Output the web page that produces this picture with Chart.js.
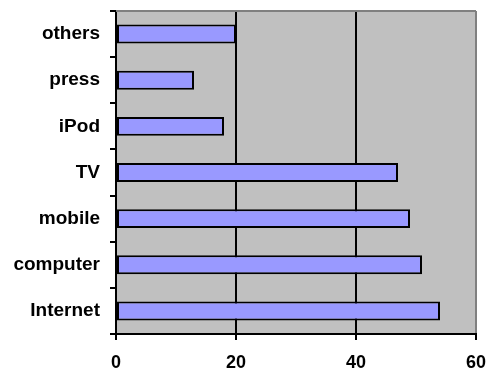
<!DOCTYPE html>
<html>
<head>
<meta charset="utf-8">
<script src="https://cdn.jsdelivr.net/npm/chart.js@4"></script>
<style>
  html, body { margin: 0; padding: 0; background: #fff; }
  #wrap { width: 487px; height: 373px; }
</style>
</head>
<body>
<div id="wrap"><canvas id="barChart" width="487" height="373"></canvas></div>
<script>
const categories = ["others", "press", "iPod", "TV", "mobile", "computer", "Internet"];
const values = [20, 13, 18, 47, 49, 51, 54];
const xTicks = [0, 20, 40, 60];

// grey plot area with a grey frame on top
const plotBackground = {
  id: "plotBackground",
  beforeDraw(chart) {
    const { ctx, chartArea: a } = chart;
    ctx.save();
    ctx.fillStyle = "#C0C0C0";
    ctx.fillRect(a.left, a.top, a.right - a.left, a.bottom - a.top);
    ctx.restore();
  },
  afterDraw(chart) {
    const { ctx, chartArea: a } = chart;
    ctx.save();
    ctx.strokeStyle = "#808080";
    ctx.lineWidth = 2;
    ctx.beginPath();
    ctx.moveTo(a.left, a.top);
    ctx.lineTo(a.right, a.top);
    ctx.stroke();
    ctx.restore();
  },
};

const ctx = document.getElementById("barChart").getContext("2d");

new Chart(ctx, {
  type: "bar",
  data: {
    labels: categories,
    datasets: [
      {
        data: values,
        backgroundColor: "#9999FF",
        borderColor: "#000000",
        borderWidth: 2,
        borderSkipped: false,
        barPercentage: 0.41,
        categoryPercentage: 1,
      },
    ],
  },
  options: {
    indexAxis: "y",
    responsive: false,
    animation: false,
    layout: { padding: { top: 11, right: 11, left: 0, bottom: 0 } },
    plugins: {
      legend: { display: false },
      tooltip: { enabled: false },
    },
    scales: {
      x: {
        min: 0,
        max: 60,
        afterBuildTicks: (scale) => {
          scale.ticks = xTicks.map((v) => ({ value: v }));
        },
        afterFit: (scale) => {
          scale.height = 39;
          scale.paddingLeft = 0;
          scale.paddingRight = 0;
        },
        grid: {
          color: (c) => (c.tick && c.tick.value === 60 ? "#808080" : "#000000"),
          lineWidth: 2,
          tickLength: 6,
          tickColor: "#000000",
        },
        border: { color: "#000000", width: 2 },
        ticks: {
          color: "#000000",
          padding: 12,
          maxRotation: 0,
          font: { family: "'Liberation Sans', Arial, sans-serif", size: 18, weight: "bold" },
        },
      },
      y: {
        afterFit: (scale) => {
          scale.width = 116;
          scale.paddingTop = 0;
          scale.paddingBottom = 0;
        },
        grid: {
          drawOnChartArea: false,
          offset: true,
          tickLength: 6,
          lineWidth: 2,
          color: "#000000",
        },
        border: { color: "#000000", width: 2 },
        ticks: {
          color: "#000000",
          padding: 10,
          font: { family: "'Liberation Sans', Arial, sans-serif", size: 19, weight: "bold" },
        },
      },
    },
  },
  plugins: [plotBackground],
});
</script>
</body>
</html>
